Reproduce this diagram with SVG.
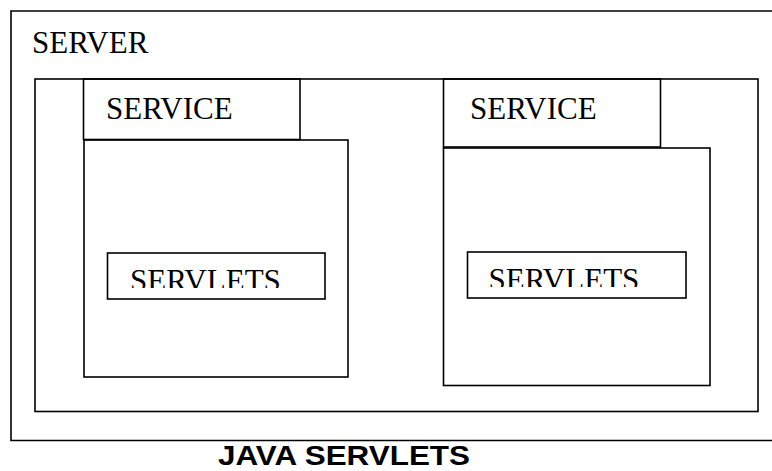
<svg xmlns="http://www.w3.org/2000/svg" width="772" height="471" viewBox="0 0 772 471">
  <defs>
    <style>
      .box { fill: none; stroke: #000; stroke-width: 1.6; }
      .lbl { font-family: "Liberation Serif", "Times New Roman", serif; font-size: 31px; fill: #000; }
      .title { font-family: "Liberation Sans", Arial, sans-serif; font-size: 28px; font-weight: bold; fill: #000; }
    </style>
    <clipPath id="clipL"><rect x="100" y="255" width="230" height="33"/></clipPath>
    <clipPath id="clipR"><rect x="460" y="255" width="230" height="32"/></clipPath>
  </defs>
  <rect width="772" height="471" fill="#fff"/>
  <g id="server">
    <path class="box" d="M772 11 H11 V440.5 H772"/>
    <text class="lbl" x="32" y="52.5">SERVER</text>
  </g>
  <g id="container">
    <rect class="box" x="35" y="79" width="723" height="332.5"/>
  </g>
  <g id="service-left">
    <rect class="box" x="83.5" y="79" width="216.5" height="60.5"/>
    <rect class="box" x="84" y="140" width="264" height="237"/>
    <text class="lbl" x="106" y="119">SERVICE</text>
  </g>
  <g id="servlets-left">
    <rect class="box" x="107.5" y="253" width="217.5" height="46"/>
    <text class="lbl" x="130" y="291" clip-path="url(#clipL)">SERVLETS</text>
  </g>
  <g id="service-right">
    <rect class="box" x="443.5" y="79" width="217" height="68"/>
    <rect class="box" x="443.5" y="148" width="266.5" height="237.5"/>
    <text class="lbl" x="470" y="118.5">SERVICE</text>
  </g>
  <g id="servlets-right">
    <rect class="box" x="467.5" y="252" width="218.5" height="46"/>
    <text class="lbl" x="488.5" y="290" clip-path="url(#clipR)">SERVLETS</text>
  </g>
  <g id="connectors"/>
  <text class="title" x="218" y="465" textLength="252" lengthAdjust="spacingAndGlyphs">JAVA SERVLETS</text>
</svg>
